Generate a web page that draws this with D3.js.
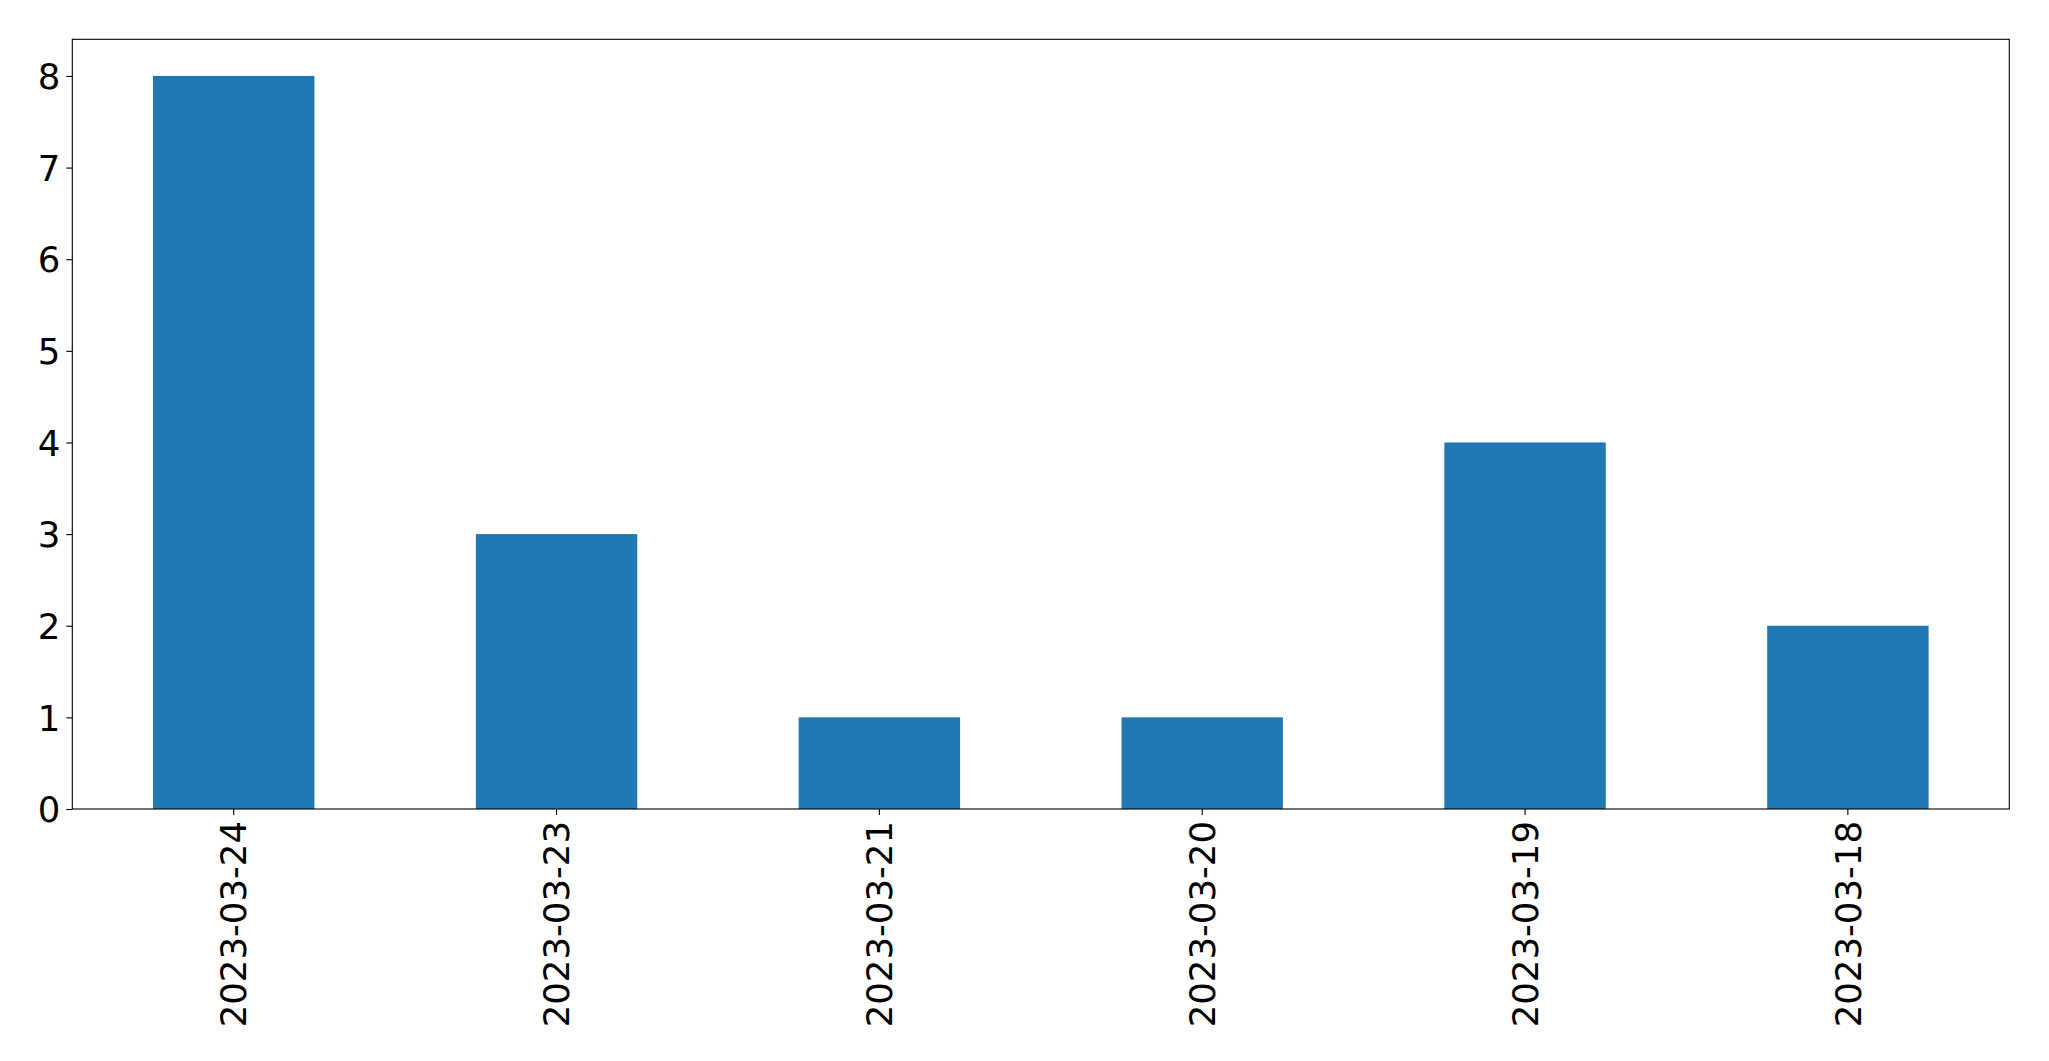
<!DOCTYPE html>
<html><head><meta charset="utf-8">
<script src="https://cdn.jsdelivr.net/npm/d3@7"></script>
<style>body{margin:0;background:#fff}svg{display:block}</style>
</head><body>
<script>
const categories = ["2023-03-24","2023-03-23","2023-03-21","2023-03-20","2023-03-19","2023-03-18"];
const values = [8,3,1,1,4,2];
const yTicks = [0,1,2,3,4,5,6,7,8];

const W=2049,H=1061;
const m={left:72.3,top:39.3,right:2049-2009.3,bottom:1061-809};
const svg=d3.select("body").append("svg").attr("width",W).attr("height",H);
const iw=W-m.left-m.right, ih=H-m.top-m.bottom;
const g=svg.append("g").attr("transform",`translate(${m.left},${m.top})`);
const x=d3.scaleBand().domain(categories).range([0,iw]).paddingInner(0.5).paddingOuter(0.25);
const y=d3.scaleLinear().domain([0,8.4]).range([ih,0]);
g.selectAll("rect.bar").data(values).join("rect").attr("class","bar")
 .attr("x",(d,i)=>x(categories[i])).attr("width",x.bandwidth())
 .attr("y",d=>y(d)).attr("height",d=>y(0)-y(d)).attr("fill","#1f77b4");
const font="'DejaVu Sans', sans-serif";
const ya=g.append("g").call(d3.axisLeft(y).tickValues(yTicks).tickFormat(d3.format("d")).tickSize(6).tickPadding(6));
const xa=g.append("g").attr("transform",`translate(0,${ih})`).call(d3.axisBottom(x).tickSize(6).tickPadding(10));
[ya,xa].forEach(a=>{a.select(".domain").remove();a.selectAll("line").attr("stroke","#000").attr("stroke-width",1.1);
 a.selectAll("text").attr("font-family",font).attr("font-size",35.5).attr("fill","#000");});
ya.selectAll("text").attr("dy","0.36em");
xa.selectAll("text").attr("transform","rotate(-90)").attr("text-anchor","end").attr("dy","0.36em").attr("x",-12).attr("y",0);
g.append("rect").attr("x",0).attr("y",0).attr("width",iw).attr("height",ih).attr("fill","none").attr("stroke","#000").attr("stroke-width",1.1);
</script>
</body></html>
